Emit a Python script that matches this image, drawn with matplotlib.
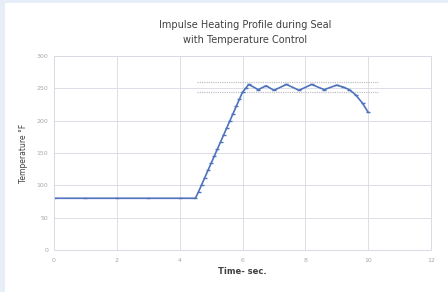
import matplotlib
matplotlib.use("Agg")
import matplotlib.pyplot as plt
from matplotlib.patches import Rectangle

# seal temperature profile
t_flat = [0, 1, 2, 3, 4, 4.5]
temp_flat = [80, 80, 80, 80, 80, 80]

t_ramp = [4.6, 4.7, 4.8, 4.9, 5.0, 5.1, 5.2, 5.3, 5.4, 5.5, 5.6, 5.7, 5.8, 5.9, 6.0, 6.1, 6.2]
temp_ramp = [90, 101, 112, 123, 134, 145, 156, 167, 178, 189, 200, 211, 222, 233, 244, 250, 256]

t_hold = [6.5, 6.75, 7.0, 7.4, 7.8, 8.2, 8.6, 9.0, 9.2, 9.4, 9.6, 9.82, 10.0]
temp_hold = [248, 254, 247, 256, 247, 256, 248, 255, 252, 248, 240, 227, 213]

band_t = [4.55, 10.3]
band_hi = 260
band_lo = 245

x_ticks = [0, 2, 4, 6, 8, 10, 12]
y_ticks = [0, 50, 100, 150, 200, 250, 300]

t = t_flat + t_ramp + t_hold
temp = temp_flat + temp_ramp + temp_hold

fig = plt.figure(figsize=(4.48, 2.92), dpi=100)
fig.patch.set_facecolor("white")
# light blue frame on the left and top edge
fig.patches.append(Rectangle((0, 0), 5 / 448, 1, transform=fig.transFigure,
                             facecolor="#e7eef8", edgecolor="none"))
fig.patches.append(Rectangle((0, 289 / 292), 1, 3 / 292, transform=fig.transFigure,
                             facecolor="#e7eef8", edgecolor="none"))

ax = fig.add_axes([54 / 448, 42 / 292, 377 / 448, 194 / 292])

ax.plot(band_t, [band_hi, band_hi], color="#c0c0c8", lw=0.9, ls=(0, (1.0, 0.8)))
ax.plot(band_t, [band_lo, band_lo], color="#c0c0c8", lw=0.9, ls=(0, (1.0, 0.8)))
ax.plot(t, temp, color="#4f72bc", lw=1.2, marker="_", ms=3.5, mew=1.0)

ax.set_xlim(0, 12)
ax.set_ylim(0, 300)
ax.set_xticks(x_ticks)
ax.set_yticks(y_ticks)
ax.grid(True, color="#dcdfe8", lw=0.7)
ax.set_axisbelow(True)
for s in ax.spines.values():
    s.set_color("#d8dbe4")
    s.set_linewidth(0.7)
ax.tick_params(labelsize=4.5, colors="#a8a8a8", length=0, pad=4)
ax.tick_params(axis="x", pad=6)

ax.set_xlabel("Time- sec.", fontsize=6, fontweight="bold", color="#404040", labelpad=3)
ax.set_ylabel("Temperature °F", fontsize=5.5, color="#404040", labelpad=6)
fig.text(0.547, 0.889, "Impulse Heating Profile during Seal\nwith Temperature Control",
         ha="center", va="center", fontsize=7, color="#404040", linespacing=1.6)

fig.savefig("out.png", dpi=100)
